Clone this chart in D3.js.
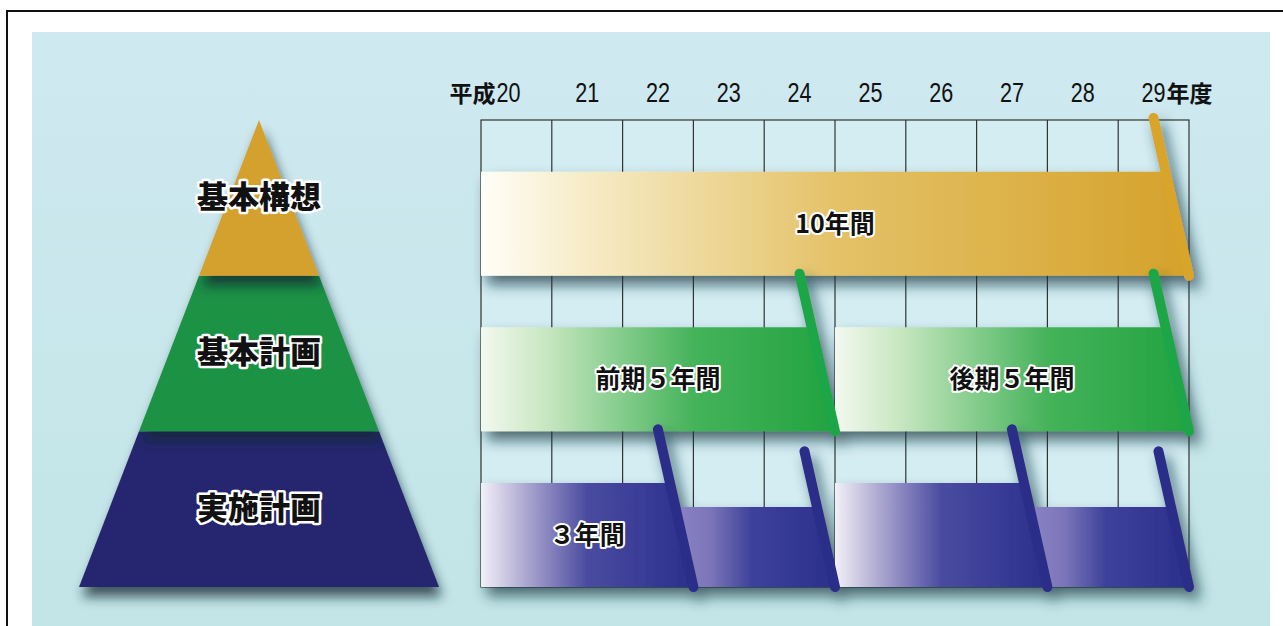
<!DOCTYPE html>
<html><head><meta charset="utf-8">
<script src="https://cdn.jsdelivr.net/npm/d3@7"></script>
<style>body{margin:0;background:#fff}svg{display:block}</style>
</head><body>
<script>
// 計画期間（平成20〜29年度）
var years = [20,21,22,23,24,25,26,27,28,29];
var tierNames = ["基本構想","基本計画","実施計画"];
var tierColors = ["#d4a12f","#1f9245","#26276f"];
var poleColors = ["#d9a42c","#1fa647","#2b2d88"];

var periodTier  = [0,1,1,2,2,2,2];
var periodStart = [20,20,25,20,23,25,28];
var periodEnd   = [29,24,29,22,24,27,29];
var periodLabel = ["10年間","前期５年間","後期５年間","３年間","","",""];
var periodShort = [false,false,false,false,true,false,true];

var gradStops = {
  t0: [[0,"#fffef8"],[0.12,"#f8efcf"],[0.5,"#e4c268"],[1,"#d5a22b"]],
  t1: [[0,"#f3f9ef"],[0.18,"#c9e7c2"],[0.6,"#45b35a"],[1,"#22a340"]],
  t2: [[0,"#f2f0f7"],[0.22,"#a9a4cf"],[0.5,"#4a4ba0"],[1,"#2b2f8c"]],
  t2s:[[0,"#8d86c4"],[0.25,"#7c76b9"],[0.5,"#3e419b"],[1,"#2b2f8c"]]
};

var W = 1283, H = 626;
var svg = d3.select("body").append("svg").attr("width", W).attr("height", H);
var defs = svg.append("defs");

var bg = defs.append("linearGradient").attr("id","bg").attr("x1",0).attr("y1",0).attr("x2",0).attr("y2",1);
bg.append("stop").attr("offset",0).attr("stop-color","#cfe9f0");
bg.append("stop").attr("offset",1).attr("stop-color","#c2e5e7");

Object.keys(gradStops).forEach(function(k){
  var g = defs.append("linearGradient").attr("id","g_"+k).attr("x1",0).attr("x2",1).attr("y1",0).attr("y2",0);
  gradStops[k].forEach(function(s){ g.append("stop").attr("offset",s[0]).attr("stop-color",s[1]); });
});

var sh = defs.append("filter").attr("id","shadow").attr("x","-10%").attr("y","-20%").attr("width","130%").attr("height","170%");
sh.append("feDropShadow").attr("dx",6).attr("dy",9).attr("stdDeviation",7)
  .attr("flood-color","#16343a").attr("flood-opacity",0.7);
var psh = defs.append("filter").attr("id","pshadow").attr("x","-20%").attr("y","-20%").attr("width","140%").attr("height","160%");
psh.append("feDropShadow").attr("dx",3).attr("dy",10).attr("stdDeviation",6)
  .attr("flood-color","#0c2a30").attr("flood-opacity",0.75);

// 枠と背景
svg.append("rect").attr("x",32).attr("y",32).attr("width",1238).attr("height",H-32).attr("fill","url(#bg)");
svg.append("path").attr("d","M7,"+H+"V11H"+W).attr("fill","none").attr("stroke","#111").attr("stroke-width",2);

var x = d3.scaleBand().domain(years).range([481,1189]);
var y = d3.scaleBand().domain(tierNames).range([120,587]);
var barH = 104, shortH = 80, slope = 0.225;

// グリッド
var grid = svg.append("g");
grid.append("rect").attr("x",481).attr("y",y.range()[0]).attr("width",x.range()[1]-481)
  .attr("height",y.range()[1]-y.range()[0]).attr("fill","#d3edf3").attr("stroke","#333").attr("stroke-width",1.2);
grid.selectAll("line").data(years.slice(1)).enter().append("line")
  .attr("x1",function(d){return x(d);}).attr("x2",function(d){return x(d);})
  .attr("y1",y.range()[0]).attr("y2",y.range()[1]).attr("stroke","#333").attr("stroke-width",1.2);

// 年度ラベル（細い数字）
var yl = svg.append("g").attr("class","years");
var sx = 0.8;
years.forEach(function(d,i){
  var cx = x(d) + x.bandwidth()/2 - (i===0 ? 8 : 0);
  var t = yl.append("text").attr("x",0).attr("y",0).attr("text-anchor","middle")
    .attr("transform","translate("+cx+",102) scale("+sx+",1)")
    .attr("font-family","'Liberation Sans',sans-serif")
    .attr("font-size",27).attr("fill","#111").text(d);
  var w = t.node().getComputedTextLength() * sx;
  if (i === 0) {
    yl.append("text").attr("x",cx - w/2 - 1).attr("y",102).attr("text-anchor","end")
      .attr("font-family","'Noto Sans CJK JP',sans-serif").attr("font-weight",700)
      .attr("font-size",23).attr("fill","#111").text("平成");
  }
  if (i === years.length-1) {
    yl.append("text").attr("x",cx + w/2 + 1).attr("y",102).attr("text-anchor","start")
      .attr("font-family","'Noto Sans CJK JP',sans-serif").attr("font-weight",700)
      .attr("font-size",23).attr("fill","#111").text("年度");
  }
});

// ピラミッド
var apexX = 259, baseHalf = 180;
var top0 = y.range()[0], bot0 = y.range()[1];
function halfAt(yy){ return baseHalf * (yy - top0) / (bot0 - top0); }
var pyr = svg.append("g");
tierNames.slice().reverse().forEach(function(t){
  var ya = y(t), yb = y(t) + y.bandwidth();
  var pts = [[apexX-halfAt(ya),ya],[apexX+halfAt(ya),ya],[apexX+halfAt(yb),yb],[apexX-halfAt(yb),yb]];
  pyr.append("path").attr("d","M"+pts.join("L")+"Z")
    .attr("fill",tierColors[tierNames.indexOf(t)]).attr("filter","url(#pshadow)");
});
tierNames.forEach(function(t,i){
  var cy = y(t) + y.bandwidth() - 79;
  pyr.append("text").attr("x",apexX).attr("y",cy).attr("dy","0.35em").attr("text-anchor","middle")
    .attr("font-family","'Noto Sans CJK JP',sans-serif").attr("font-weight",900).attr("font-size",31)
    .attr("fill","#111").attr("stroke","#fff").attr("stroke-width",5).attr("stroke-linejoin","round")
    .attr("paint-order","stroke").text(t);
});

// 期間バー
var periods = periodTier.map(function(tier,i){
  var t = tierNames[tier];
  var yb = y(t) + y.bandwidth();
  var h = periodShort[i] ? shortH : barH;
  var poleTop = y(t) - 2 + (periodShort[i] ? 22 : 0);
  return {
    i: i, tier: tier, short: periodShort[i], label: periodLabel[i],
    x0: x(periodStart[i]) - (periodShort[i] ? 25 : 0),
    x1: x(periodEnd[i]) + x.bandwidth(),
    xl: x(periodStart[i]),
    yt: yb - h, yb: yb, poleTop: poleTop
  };
});

var bars = svg.append("g");
[0,1,2].forEach(function(tier){
  var ps = periods.filter(function(p){ return p.tier === tier; })
    .sort(function(a,b){ return (b.short?1:0) - (a.short?1:0); });
  var g = bars.append("g").attr("filter","url(#shadow)");
  ps.forEach(function(p){
    var key = tier === 2 && p.short ? "t2s" : "t"+tier;
    var xr = p.x1 - slope*(p.yb - p.yt);
    g.append("path")
      .attr("d","M"+p.x0+","+p.yt+"L"+xr+","+p.yt+"L"+p.x1+","+p.yb+"L"+p.x0+","+p.yb+"Z")
      .attr("fill","url(#g_"+key+")");
  });
  ps.forEach(function(p){
    g.append("line").attr("x1",p.x1).attr("y1",p.yb)
      .attr("x2",p.x1 - slope*(p.yb - p.poleTop)).attr("y2",p.poleTop)
      .attr("stroke",poleColors[tier]).attr("stroke-width",10).attr("stroke-linecap","round");
  });
});

// バーのラベル
svg.append("g").selectAll("text").data(periods.filter(function(p){ return p.label; }))
  .enter().append("text")
  .attr("x",function(p){ return (p.xl + p.x1)/2; })
  .attr("y",function(p){ return (p.yt + p.yb)/2; })
  .attr("dy","0.36em").attr("text-anchor","middle")
  .attr("font-family","'Noto Sans CJK JP',sans-serif").attr("font-weight",700).attr("font-size",25)
  .attr("fill","#111").attr("stroke","#fff").attr("stroke-width",4).attr("stroke-linejoin","round")
  .attr("paint-order","stroke")
  .text(function(p){ return p.label; });
</script>
</body></html>
